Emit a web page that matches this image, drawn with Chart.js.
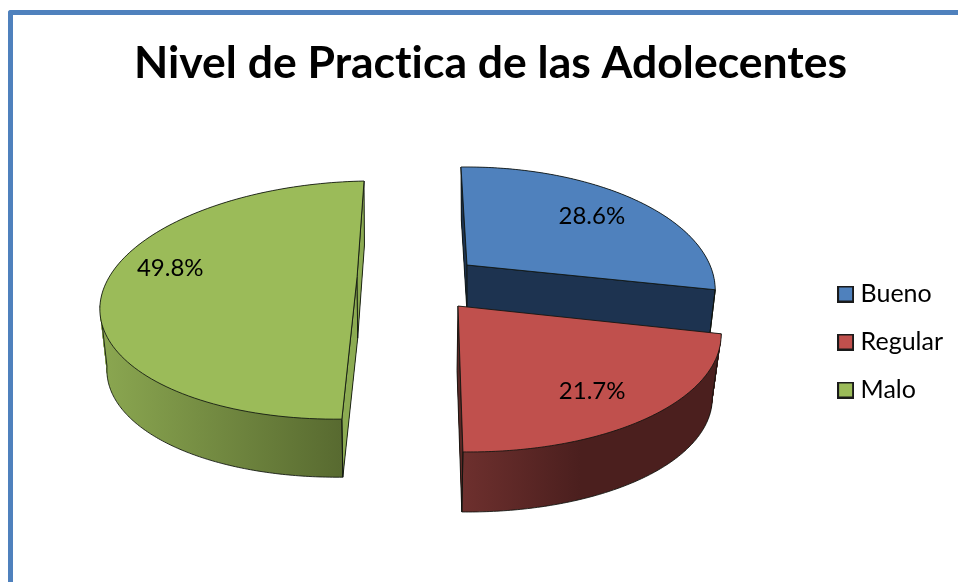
<!DOCTYPE html>
<html>
<head>
<meta charset="utf-8">
<style>
html,body{margin:0;padding:0;width:958px;height:582px;overflow:hidden;background:#fff}
#frame{position:absolute;left:8px;top:10px;width:970px;height:600px;box-sizing:border-box;border-left:5px solid #4F81BD;border-top:5px solid #4F81BD;border-top-left-radius:3px}
canvas{position:absolute;left:0;top:0}
</style>
<script src="https://cdn.jsdelivr.net/npm/chart.js@4/dist/chart.umd.js"></script>
</head>
<body>
<div id="frame"></div>
<canvas id="c" width="958" height="582"></canvas>
<script>
const categories = ['Bueno', 'Regular', 'Malo'];
const values = [28.6, 21.7, 49.8];
const chartTitle = 'Nivel de Practica de las Adolecentes';

const topColors = ['#4F81BD', '#C0504D', '#9BBB59'];
const fontFamily = 'Lato, "Noto Sans", sans-serif';

// Perspective view of each exploded slice: apex A, axes U/V, perspective k, extrusion D, base scale s
const projections = [
  {A:[467,265],     U:[241.8,-2.5], V:[7.2,117.3], k:.197, D:[.2,50.6],  s:.975,
   wall:[[467,'#1D3350'],[715,'#1D3350']], face:'#1D3350', faces:[0,1], rim:[1,1]},
  {A:[458,306],     U:[256.3,.5],   V:[8,117.2],   k:.197, D:[-1,64.4],  s:.97,
   wall:[[461,'#6E302E'],[580,'#4B1F1E'],[720,'#4B1F1E']], face:'#5A2725', faces:[1], rim:[0,1]},
  {A:[357.1,276.6], U:[250.4,-5],   V:[-8.3,114.4], k:.197, D:[.6,61.6],  s:.975,
   wall:[[105,'#8AA650'],[342,'#586A30']], face:'#8CAB52', faces:[0,1], rim:[0,.433]}
];
const drawOrder = [0, 2, 1];
const labelSpots = [{deg:52.4, f:.725}, {deg:145.3, f:.77}, {deg:278.2, f:.774}];
const outline = 'rgba(15,20,15,.85)';

// theta is the library's canvas angle (0 = +x, clockwise); f is the radial fraction; t is depth 0..1
function pt(p, theta, t, f) {
  const r = f === undefined ? 1 : f;
  const X = Math.cos(theta)*r, Y = Math.sin(theta)*r;
  const w = 1 - p.k*Y, z = (1 - (1 - p.s)*t)/w;
  return [p.A[0] + p.D[0]*t + z*(X*p.U[0] + Y*p.V[0]),
          p.A[1] + p.D[1]*t + z*(X*p.U[1] + Y*p.V[1])];
}
function poly(ctx, pts, close) {
  ctx.beginPath();
  pts.forEach((q, i) => i ? ctx.lineTo(q[0], q[1]) : ctx.moveTo(q[0], q[1]));
  if (close) ctx.closePath();
}
function arcPts(el, p, t, from, to) {
  const out = [], n = 120;
  const span = el.endAngle - el.startAngle;
  const a0 = el.startAngle + span*from, a1 = el.startAngle + span*to;
  for (let i = 0; i <= n; i++) out.push(pt(p, a0 + (a1 - a0)*i/n, t));
  return out;
}
function wedge(el, p, t) {
  return [pt(p, el.startAngle, t, 0)].concat(arcPts(el, p, t, 0, 1));
}

const pie3d = {
  id: 'pie3d',
  beforeDraw(chart) { chart.ctx.textRendering = 'optimizeSpeed'; },
  beforeDatasetsDraw(chart) {
    const ctx = chart.ctx, meta = chart.getDatasetMeta(0);
    drawOrder.forEach(i => {
      const el = meta.data[i], p = projections[i];

      // extruded wall: the slice stacked along the depth
      const w0 = p.wall[0][0], w1 = p.wall[p.wall.length-1][0];
      const g = ctx.createLinearGradient(w0, 0, w1, 0);
      p.wall.forEach(w => g.addColorStop((w[0]-w0)/(w1-w0), w[1]));
      ctx.fillStyle = g;
      const steps = Math.ceil(p.D[1]);
      for (let k = steps; k >= 0; k--) { poly(ctx, wedge(el, p, k/steps), true); ctx.fill(); }

      // cut faces
      ctx.lineWidth = 1; ctx.strokeStyle = outline;
      p.faces.forEach(e => {
        const th = e ? el.endAngle : el.startAngle;
        poly(ctx, [pt(p,th,0,0), pt(p,th,0), pt(p,th,1), pt(p,th,1,0)], true);
        ctx.fillStyle = p.face; ctx.fill(); ctx.stroke();
      });

      // base rim and silhouette edges
      const bottom = arcPts(el, p, 1, p.rim[0], p.rim[1]);
      const a = arcPts(el, p, 0, p.rim[0], p.rim[0])[0], b = arcPts(el, p, 0, p.rim[1], p.rim[1])[0];
      poly(ctx, [a].concat(bottom, [b])); ctx.stroke();

      // top face
      poly(ctx, wedge(el, p, 0), true);
      ctx.fillStyle = topColors[i]; ctx.fill(); ctx.stroke();
    });

    // value labels
    ctx.save();
    ctx.fillStyle = '#000';
    ctx.font = '24px ' + fontFamily;
    ctx.textAlign = 'center';
    ctx.textBaseline = 'middle';
    values.forEach((v, i) => {
      const th = (labelSpots[i].deg - 90) * Math.PI / 180;
      const q = pt(projections[i], th, 0, labelSpots[i].f);
      ctx.fillText(v.toFixed(1) + '%', q[0], q[1]);
    });
    ctx.restore();
    return false;
  }
};

function legendSwatch(color) {
  const s = document.createElement('canvas');
  s.width = 17; s.height = 17;
  const c = s.getContext('2d');
  c.fillStyle = color; c.fillRect(1, 1, 15, 15);
  c.strokeStyle = '#1a1a1a'; c.lineWidth = 2; c.strokeRect(1, 1, 15, 15);
  return s;
}

new Chart(document.getElementById('c'), {
  type: 'pie',
  plugins: [pie3d],
  data: {
    labels: categories,
    datasets: [{data: values, backgroundColor: topColors, borderWidth: 0}]
  },
  options: {
    responsive: false,
    animation: false,
    events: [],
    layout: {padding: {left: 28, right: 5, top: 27, bottom: 0}},
    plugins: {
      tooltip: {enabled: false},
      title: {
        display: true,
        text: chartTitle,
        color: '#000',
        font: {family: fontFamily, size: 44.5, weight: 'bold', lineHeight: 1.2},
        padding: {top: 10, bottom: 11.6}
      },
      legend: {
        position: 'right',
        fullSize: false,
        labels: {
          color: '#000',
          font: {family: fontFamily, size: 25},
          usePointStyle: true,
          pointStyleWidth: 5,
          padding: 23,
          generateLabels() {
            return categories.map((name, i) => ({
              text: name, fillStyle: topColors[i], strokeStyle: '#1a1a1a',
              lineWidth: 0, index: i, hidden: false, fontColor: '#000',
              pointStyle: legendSwatch(topColors[i])
            }));
          }
        }
      }
    }
  }
});
</script>
</body>
</html>
